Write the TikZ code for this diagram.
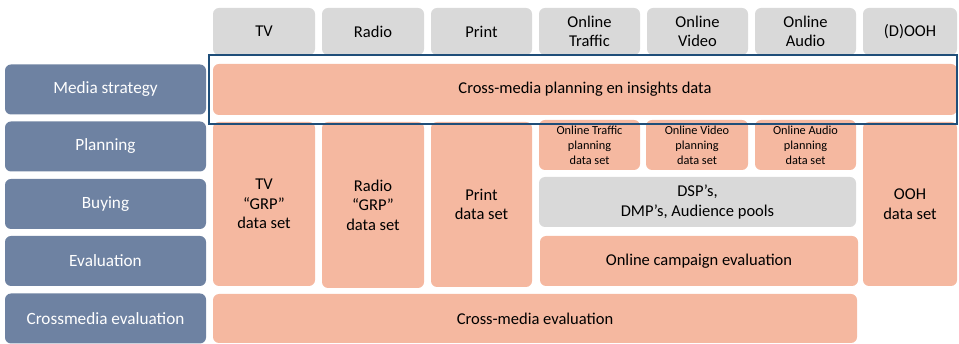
\documentclass[tikz,border=0pt]{standalone}
\usepackage{fontspec}
\setmainfont{Carlito}
\definecolor{rowblue}{HTML}{6E82A2}
\definecolor{salmon}{HTML}{F5B8A0}
\definecolor{hdrgray}{HTML}{D9D9D9}
\definecolor{framblue}{HTML}{1F4E79}

\begin{document}
\begin{tikzpicture}[x=1pt, y=-1pt,
	every node/.style={align=center, inner sep=0pt, rounded corners=6pt, font=\fontsize{16.5}{19.5}\selectfont},
	hdr/.style={fill=hdrgray, text=black},
	rowlab/.style={fill=rowblue, text=white, minimum width=201pt, minimum height=50pt, font=\fontsize{17.2}{20}\selectfont},
	cell/.style={fill=salmon, text=black},
	small/.style={font=\fontsize{12.3}{15}\selectfont}]
	\useasboundingbox (0,0) rectangle (959,344);
	% column headers
	\node[hdr, minimum width=102pt, minimum height=47pt] (tv) at (264,31.5) {TV};
	\node[hdr, minimum width=102pt, minimum height=47pt] (radio) at (373,31.5) {Radio};
	\node[hdr, minimum width=101pt, minimum height=47pt] (print) at (481.5,31.5) {Print};
	\node[hdr, minimum width=101pt, minimum height=47pt] (traffic) at (589.5,31.5) {Online\\Traffic};
	\node[hdr, minimum width=101pt, minimum height=47pt] (video) at (697.5,31.5) {Online\\Video};
	\node[hdr, minimum width=101pt, minimum height=47pt] (audio) at (805.5,31.5) {Online\\Audio};
	\node[hdr, minimum width=94pt, minimum height=47pt] (ooh) at (910,31.5) {(D)OOH};
	% row labels
	\node[rowlab] (strategy) at (105.5,89.5) {Media strategy};
	\node[rowlab] (planning) at (105.5,146.5) {Planning};
	\node[rowlab] (buying) at (105.5,204) {Buying};
	\node[rowlab] (evaluation) at (105.5,261) {Evaluation};
	\node[rowlab] (crossmedia) at (105.5,318.5) {Crossmedia evaluation};
	% cells
	\node[cell, minimum width=744pt, minimum height=51pt] (insights) at (585,89.5) {Cross-media planning en insights data};
	\node[cell, minimum width=102pt, minimum height=164pt] (tvset) at (264,204) {TV\\“GRP”\\data set};
	\node[cell, minimum width=102pt, minimum height=166pt] (radioset) at (373,205) {Radio\\“GRP”\\data set};
	\node[cell, minimum width=101pt, minimum height=165pt] (printset) at (481.5,204.5) {Print\\data set};
	\node[cell, small, minimum width=101pt, minimum height=50pt] (trafficset) at (589.5,145) {Online Traffic\\planning\\data set};
	\node[cell, small, minimum width=102pt, minimum height=50pt] (videoset) at (697,145) {Online Video\\planning\\data set};
	\node[cell, small, minimum width=101pt, minimum height=50pt] (audioset) at (805.5,145) {Online Audio\\planning\\data set};
	\node[hdr, minimum width=317pt, minimum height=50pt] (dsp) at (697.5,202) {DSP’s,\\DMP’s, Audience pools};
	\node[cell, minimum width=318pt, minimum height=50pt] (online) at (699,261) {Online campaign evaluation};
	\node[cell, minimum width=94pt, minimum height=164pt] (oohset) at (910,204) {OOH\\data set};
	\node[cell, minimum width=644pt, minimum height=49pt] (crosseval) at (535,318.5) {Cross-media evaluation};
	% highlight frame
	\node[draw=framblue, line width=2.5pt, rounded corners=0pt, minimum width=748pt, minimum height=69pt] (frame) at (583,89.5) {};
\end{tikzpicture}
\end{document}
